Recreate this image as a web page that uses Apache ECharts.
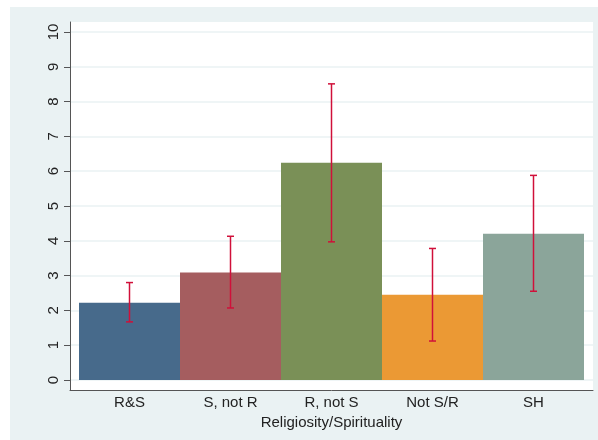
<!DOCTYPE html>
<html>
<head>
<meta charset="utf-8">
<title>Religiosity/Spirituality</title>
<script src="https://cdn.jsdelivr.net/npm/echarts@6/dist/echarts.min.js"></script>
<style>html,body{margin:0;padding:0;background:#fff;}</style>
</head>
<body>
<div id="main" style="width:598px;height:440px;"></div>
<script type="text/javascript">
var categories = ['R&S', 'S, not R', 'R, not S', 'Not S/R', 'SH'];
var means = [2.22, 3.09, 6.24, 2.45, 4.20];
var ciLow = [1.67, 2.07, 3.97, 1.12, 2.55];
var ciHigh = [2.80, 4.13, 8.51, 3.78, 5.88];
var barColors = ['#476a8b', '#a55d5f', '#7a9057', '#eb9934', '#8ba59a'];
var yTicks = [0, 1, 2, 3, 4, 5, 6, 7, 8, 9, 10];

var font = 'Liberation Sans, Arial, sans-serif';
var myChart = echarts.init(document.getElementById('main'));

myChart.setOption({
    backgroundColor: '#ffffff',
    animation: false,
    grid: [
        // outer panel
        {left: 10, top: 7, right: 0, bottom: 0, show: true, backgroundColor: '#eaf2f3', borderWidth: 0},
        // plot region frame
        {left: 70, top: 22, right: 5, bottom: 50, show: true, backgroundColor: '#ffffff', borderWidth: 0},
        // y scale and grid lines
        {left: 70, top: 32, right: 5, bottom: 60},
        // bars
        {left: 79, top: 32, right: 14, bottom: 60}
    ],
    xAxis: [
        {gridIndex: 0, type: 'value', show: false},
        {gridIndex: 1, type: 'value', min: 0, max: 1,
         axisLine: {lineStyle: {color: '#555', width: 1}}, axisTick: {show: false},
         axisLabel: {show: false}, splitLine: {show: false}},
        {gridIndex: 2, type: 'value', show: false},
        {gridIndex: 3, type: 'category', data: categories,
         axisLine: {show: false}, axisTick: {show: false},
         axisLabel: {color: '#222', fontFamily: font, fontSize: 15, margin: 15},
         name: 'Religiosity/Spirituality', nameLocation: 'middle', nameGap: 27,
         nameTextStyle: {color: '#222', fontFamily: font, fontSize: 15}}
    ],
    yAxis: [
        {gridIndex: 0, type: 'value', show: false},
        {gridIndex: 1, type: 'value', min: 0, max: 1,
         axisLine: {show: true, lineStyle: {color: '#555', width: 1}}, axisTick: {show: false},
         axisLabel: {show: false}, splitLine: {show: false}},
        {gridIndex: 2, type: 'value', min: yTicks[0], max: yTicks[yTicks.length - 1], interval: 1,
         axisLine: {show: false},
         axisTick: {show: true, length: 6, lineStyle: {color: '#555'}},
         axisLabel: {color: '#222', fontFamily: font, fontSize: 15, rotate: 90, margin: 9},
         splitLine: {show: true, lineStyle: {color: '#eaf2f3', width: 1.5}}},
        {gridIndex: 3, type: 'value', min: 0, max: 10, show: false}
    ],
    series: [
        {
            type: 'bar',
            xAxisIndex: 3, yAxisIndex: 3,
            barCategoryGap: '0%',
            data: means.map(function (v, i) {
                return {value: v, itemStyle: {color: barColors[i]}};
            })
        },
        {
            type: 'custom',
            xAxisIndex: 3, yAxisIndex: 3,
            z: 10,
            data: categories.map(function (c, i) { return [i, ciLow[i], ciHigh[i]]; }),
            renderItem: function (params, api) {
                var lo = api.coord([api.value(0), api.value(1)]);
                var hi = api.coord([api.value(0), api.value(2)]);
                var half = 3.5;
                var style = {stroke: '#d0103a', lineWidth: 1.5};
                return {
                    type: 'group',
                    children: [
                        {type: 'line', shape: {x1: lo[0], y1: lo[1], x2: hi[0], y2: hi[1]}, style: style},
                        {type: 'line', shape: {x1: lo[0] - half, y1: lo[1], x2: lo[0] + half, y2: lo[1]}, style: style},
                        {type: 'line', shape: {x1: hi[0] - half, y1: hi[1], x2: hi[0] + half, y2: hi[1]}, style: style}
                    ]
                };
            }
        }
    ]
});
</script>
</body>
</html>
